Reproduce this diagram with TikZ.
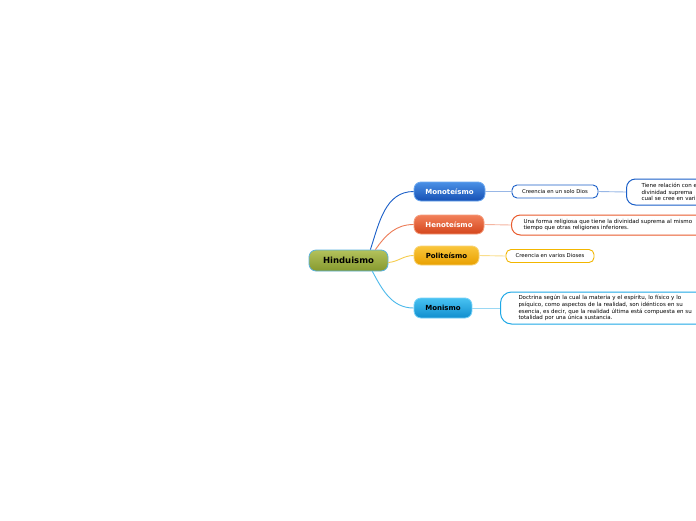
\documentclass[tikz,border=0pt]{standalone}
\usepackage{fontspec}
\setmainfont{DejaVu Sans}
\definecolor{cBlue}{HTML}{1A5FC8}
\definecolor{cRed}{HTML}{E85A2C}
\definecolor{cYel}{HTML}{F2B600}
\definecolor{cSky}{HTML}{1EA8E6}
\definecolor{hTop}{HTML}{B3C25C}
\definecolor{hBot}{HTML}{86992E}
\definecolor{hBor}{HTML}{5AB2DE}
\definecolor{bTop}{HTML}{4A90E6}
\definecolor{bBot}{HTML}{1650B4}
\definecolor{bBor}{HTML}{6CA8F0}
\definecolor{rTop}{HTML}{F2805A}
\definecolor{rBot}{HTML}{D4461C}
\definecolor{rBor}{HTML}{F59C7C}
\definecolor{yTop}{HTML}{FAC63C}
\definecolor{yBot}{HTML}{E8A000}
\definecolor{yBor}{HTML}{F8D478}
\definecolor{sTop}{HTML}{48C2F2}
\definecolor{sBot}{HTML}{108ECE}
\definecolor{sBor}{HTML}{78D2F8}
\tikzset{
  mainnode/.style={rounded corners=7pt, draw, line width=0.8pt, inner sep=0pt,
    font=\fontsize{7}{8}\selectfont\bfseries},
  childbox/.style={rounded corners=5pt, draw, fill=white, line width=0.9pt, inner sep=0pt,
    font=\fontsize{5.3}{6.8}\selectfont},
  bigbox/.style={rounded corners=9pt, draw, fill=white, line width=1pt, inner sep=0pt,
    font=\fontsize{5.5}{6.8}\selectfont, align=left},
  link/.style={line width=0.9pt},
  sublink/.style={line width=0.9pt}
}
\begin{document}
\begin{tikzpicture}[x=1pt,y=-1pt]
\useasboundingbox (0,0) rectangle (696,520);
\clip (0,0) rectangle (696,520);
\fill[white] (0,0) rectangle (696,520);

% root
\node[mainnode, draw=hBor, top color=hTop, bottom color=hBot,
  minimum width=79pt, minimum height=21pt, font=\fontsize{8.5}{10}\selectfont\bfseries] (h) at (348.5,260.5) {Hinduismo};

% main topics
\node[mainnode, draw=bBor, top color=bTop, bottom color=bBot, text=white,
  minimum width=71pt, minimum height=19pt] (m1) at (449.5,191.5) {Monoteísmo};
\node[mainnode, draw=rBor, top color=rTop, bottom color=rBot, text=white,
  minimum width=70pt, minimum height=19pt] (m2) at (449,224.5) {Henoteísmo};
\node[mainnode, draw=yBor, top color=yTop, bottom color=yBot,
  minimum width=65pt, minimum height=19pt] (m3) at (446.5,255.5) {Politeísmo};
\node[mainnode, draw=sBor, top color=sTop, bottom color=sBot,
  minimum width=58pt, minimum height=20pt] (m4) at (443,308) {Monismo};

% children
\node[childbox, draw=cBlue, minimum width=86pt, minimum height=13pt] (c1) at (555,191.5) {Creencia en un solo Dios};
\node[bigbox, draw=cBlue, anchor=west, minimum height=26pt, text width=100pt, inner xsep=15pt] (c1b) at (626,192)
  {Tiene relación con e\\divinidad suprema \\cual se cree en vari};
\node[bigbox, draw=cRed, anchor=west, minimum height=20pt, text width=190pt, inner xsep=12pt] (c2) at (511,225)
  {Una forma religiosa que tiene la divinidad suprema al mismo\\tiempo que otras religiones inferiores.};
\node[childbox, draw=cYel, minimum width=88pt, minimum height=13pt] (c3) at (550,256) {Creencia en varios Dioses};
\node[bigbox, draw=cSky, anchor=west, minimum height=32pt, text width=190pt, inner xsep=18pt, rounded corners=11pt] (c4) at (500,308)
  {Doctrina según la cual la materia y el espíritu, lo físico y lo\\psíquico, como aspectos de la realidad, son idénticos en su\\esencia, es decir, que la realidad última está compuesta en su\\totalidad por una única sustancia.};

% connectors root -> topics
\draw[link, cBlue] ([xshift=-18pt]h.north east) to[out=72,in=180] (m1.west);
\draw[link, cRed!80!white] ([xshift=-13pt]h.north east) to[out=55,in=180] (m2.west);
\draw[link, cYel!70!white] ([yshift=-2pt]h.east) to[out=5,in=180] (m3.west);
\draw[link, cSky!80!white] ([xshift=-16pt]h.south east) to[out=-62,in=180] (m4.west);

% topics -> children
\draw[sublink, cBlue!45!white] (m1.east) -- (c1.west);
\draw[sublink, cBlue!45!white] (c1.east) -- (c1b.west);
\draw[sublink, cRed!45!white] (m2.east) -- (c2.west);
\draw[sublink, cYel!45!white] (m3.east) -- (c3.west);
\draw[sublink, cSky!45!white] (m4.east) -- (c4.west);
\end{tikzpicture}
\end{document}
